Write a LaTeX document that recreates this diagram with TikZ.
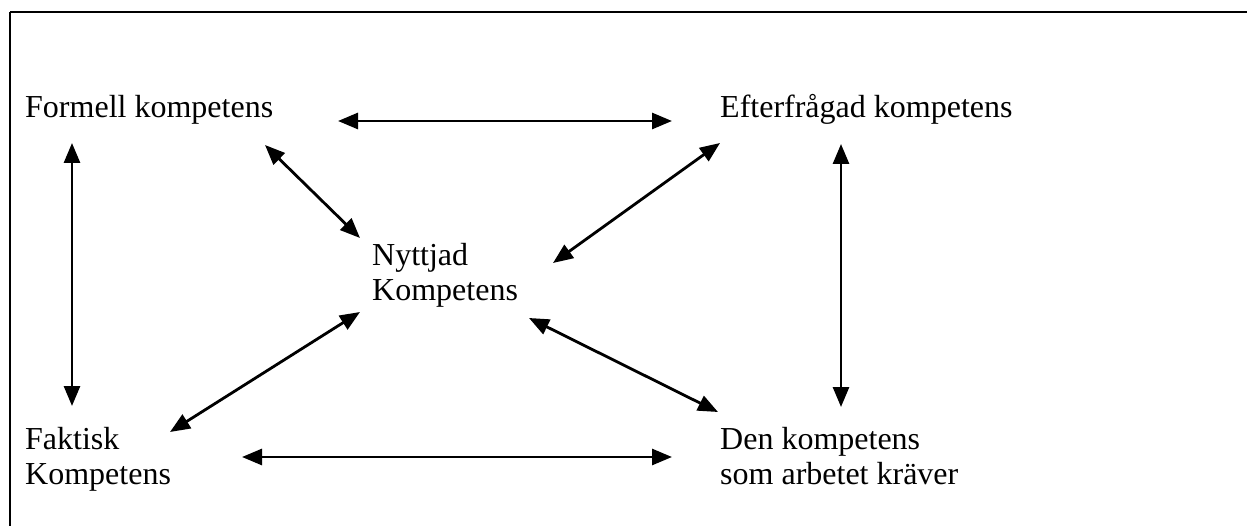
\documentclass[tikz,border=0pt]{standalone}
\usepackage{fontspec}
\setmainfont{Liberation Serif}
\usetikzlibrary{arrows.meta}
\begin{document}
\begin{tikzpicture}[x=1pt,y=-1pt,
  lbl/.style={anchor=base west,inner sep=0pt,align=left,font=\fontsize{32}{35}\selectfont},
  conn/.style={line width=2.8pt,{Triangle[length=20pt,width=16pt]}-{Triangle[length=20pt,width=16pt]}},
  frame/.style={line width=2.8pt}]
\useasboundingbox (0,0) rectangle (1247,526);
\draw[frame] (10,12) -- (1247,12);
\draw[frame] (10,12) -- (10,526);
\node[lbl] (formell) at (25,118) {Formell kompetens};
\node[lbl] (efter) at (720,118) {Efterfrågad kompetens};
\node[lbl] (nytt) at (372,301) {Nyttjad\\Kompetens};
\node[lbl] (faktisk) at (25,484) {Faktisk\\Kompetens};
\node[lbl] (den) at (720,484) {Den kompetens\\som arbetet kräver};
% connector end points
\coordinate (fe1) at (338,121);
\coordinate (fe2) at (672,121);
\coordinate (ff1) at (72,143);
\coordinate (ff2) at (72,406);
\coordinate (ed1) at (841,144);
\coordinate (ed2) at (841,407);
\coordinate (fd1) at (242,457);
\coordinate (fd2) at (672,457);
\coordinate (fn1) at (265,145);
\coordinate (fn2) at (360,238);
\coordinate (en1) at (720,143);
\coordinate (en2) at (553,263);
\coordinate (nd1) at (529,318);
\coordinate (nd2) at (718,412);
\coordinate (nf1) at (360,312);
\coordinate (nf2) at (170,432);
\draw[conn] (fe1) -- (fe2);
\draw[conn] (ff1) -- (ff2);
\draw[conn] (ed1) -- (ed2);
\draw[conn] (fd1) -- (fd2);
\draw[conn] (fn1) -- (fn2);
\draw[conn] (en1) -- (en2);
\draw[conn] (nd1) -- (nd2);
\draw[conn] (nf1) -- (nf2);
\end{tikzpicture}
\end{document}
